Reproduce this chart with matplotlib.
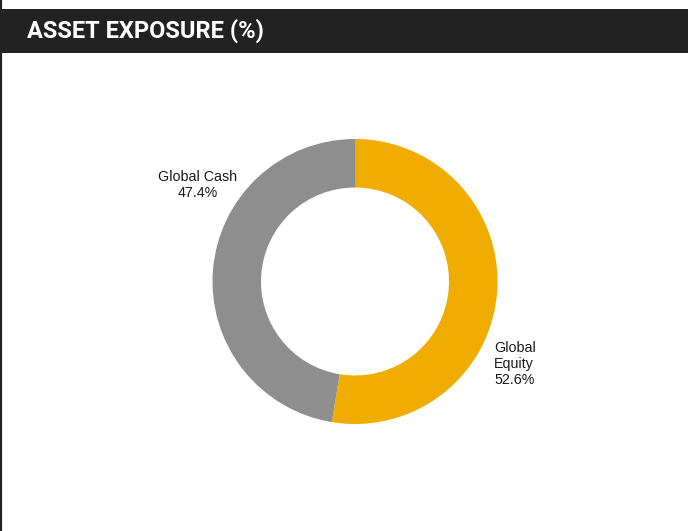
import matplotlib
matplotlib.use("Agg")
import matplotlib.pyplot as plt
from matplotlib.patches import Rectangle

labels = ["Global Equity", "Global Cash"]
values = [52.6, 47.4]
colors = ["#F0AD00", "#8D8E8D"]

W, H = 688, 531
fig = plt.figure(figsize=(W / 100, H / 100), dpi=100)
ax = fig.add_axes([0, 0, 1, 1])
ax.set_xlim(0, W)
ax.set_ylim(0, H)
ax.set_aspect("equal")
ax.axis("off")

# header bar + left border
ax.add_patch(Rectangle((0, H - 52.5), W, 43.5, color="#222222", lw=0))
ax.plot([0.8, 0.8], [0, H], color="#222222", lw=1.6)
fig.text(27 / W, 1 - 31 / H, "ASSET EXPOSURE (%)", color="white", fontsize=17,
         fontweight="bold", family=["Roboto", "DejaVu Sans"], fontstretch="condensed",
         va="center", ha="left")

cx, cy, r = 355, H - 281.5, 142.5
ax.pie(values, colors=colors, startangle=90, counterclock=False,
       center=(cx, cy), radius=r, wedgeprops=dict(width=48.5, lw=0))
ax.set_xlim(0, W)
ax.set_ylim(0, H)

font = ["Liberation Sans", "DejaVu Sans"]
ax.text(198, H - 185, f"Global Cash\n{values[1]}%", ha="center", va="center",
        fontsize=10.3, family=font, color="#1a1a1a", linespacing=1.1)
ax.text(494, H - 364, f"Global\nEquity\n{values[0]}%", ha="left", va="center",
        multialignment="left", fontsize=10.3, family=font, color="#1a1a1a",
        linespacing=1.15)

fig.savefig("out.png", dpi=100)
